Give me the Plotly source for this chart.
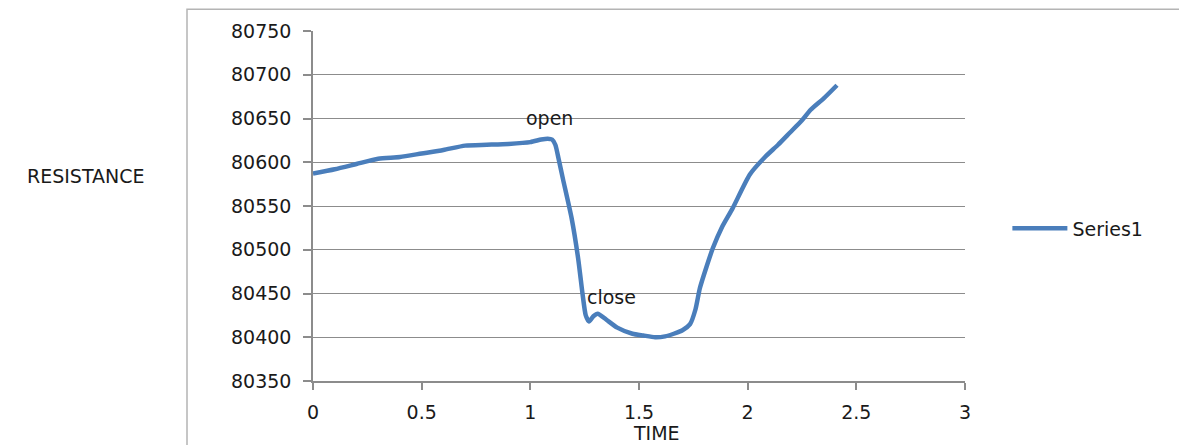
import plotly.graph_objects as go

time = [0.0, 0.1, 0.2, 0.3, 0.4, 0.5, 0.6, 0.7, 0.8, 0.9, 1.0, 1.05, 1.08, 1.10, 1.115, 1.13, 1.15, 1.19,
        1.22, 1.24, 1.255, 1.27, 1.29, 1.31, 1.35, 1.40, 1.47, 1.52, 1.574, 1.62, 1.66, 1.70,
        1.735, 1.76, 1.78, 1.81, 1.84, 1.88, 1.93, 2.01, 2.08, 2.14, 2.195, 2.25, 2.29, 2.35, 2.411]
resistance = [80587, 80592, 80598, 80604, 80606, 80610, 80614, 80619, 80620, 80621, 80623, 80626,
              80627, 80626, 80620, 80604, 80581, 80536, 80490, 80450, 80425, 80418, 80424, 80427,
              80420, 80411, 80404, 80402, 80400, 80401, 80404, 80408, 80415, 80432, 80456, 80480,
              80502, 80525, 80547, 80586, 80606, 80620, 80634, 80648, 80660, 80673, 80688]

y_ticks = [80350, 80400, 80450, 80500, 80550, 80600, 80650, 80700, 80750]
x_ticks = [0, 0.5, 1, 1.5, 2, 2.5, 3]

font = "DejaVu Sans"
FS = 19
# page body has an 8px margin; figure placed at (8, 8)
OFF = 8
fig = go.Figure()
fig.add_trace(go.Scatter(x=time, y=resistance, mode="lines", name="Series1",
                         line=dict(color="#4a7ebb", width=4.5, shape="spline", smoothing=0.6)))

fig.update_layout(
    width=1187 - OFF, height=445 - OFF,
    margin=dict(l=313 - OFF, r=222, t=28 - OFF, b=64),
    paper_bgcolor="white", plot_bgcolor="white",
    font=dict(family=font, size=FS, color="#1a1a1a"),
    showlegend=True,
    legend=dict(x=1.065, y=0.436, xanchor="left", yanchor="middle", font=dict(size=FS),
                bgcolor="rgba(0,0,0,0)", itemwidth=55),
    xaxis=dict(range=[0, 3], tickvals=x_ticks, ticktext=[str(v) for v in x_ticks],
               showgrid=False, zeroline=False, showline=True, linecolor="#8c8c8c", linewidth=1.5,
               ticks="outside", ticklen=7, tickcolor="#8c8c8c", tickwidth=1.5,
               ticklabelstandoff=6),
    yaxis=dict(range=[80350, 80750], tickvals=y_ticks, ticktext=[str(v) for v in y_ticks],
               showgrid=True, gridcolor="#8c8c8c", gridwidth=1.2, zeroline=False,
               showline=True, linecolor="#8c8c8c", linewidth=1.5,
               ticks="outside", ticklen=8, tickcolor="#8c8c8c", tickwidth=1.5,
               ticklabelstandoff=8),
    shapes=[dict(type="rect", xref="paper", yref="paper",
                 x0=(187 - 313) / 652, x1=(1185 - 313) / 652,
                 y0=(381 - 460) / 353, y1=(381 - 6) / 353,
                 line=dict(color="#b4b4b4", width=1.5), fillcolor="rgba(0,0,0,0)", layer="below")],
    annotations=[
        dict(text="RESISTANCE", xref="paper", yref="paper", x=(86 - 313) / 652, y=(381 - 174) / 353,
             showarrow=False, xanchor="center", yanchor="middle", font=dict(size=FS)),
        dict(text="TIME", xref="paper", yref="paper", x=(656 - 313) / 652, y=(381 - 433) / 353,
             showarrow=False, xanchor="center", yanchor="middle", font=dict(size=FS)),
        dict(text="open", x=1.09, y=80651, showarrow=False, xanchor="center", yanchor="middle",
             font=dict(size=FS)),
        dict(text="close", x=1.375, y=80446, showarrow=False, xanchor="center", yanchor="middle",
             font=dict(size=FS)),
    ],
)

fig.write_html("out.html")
